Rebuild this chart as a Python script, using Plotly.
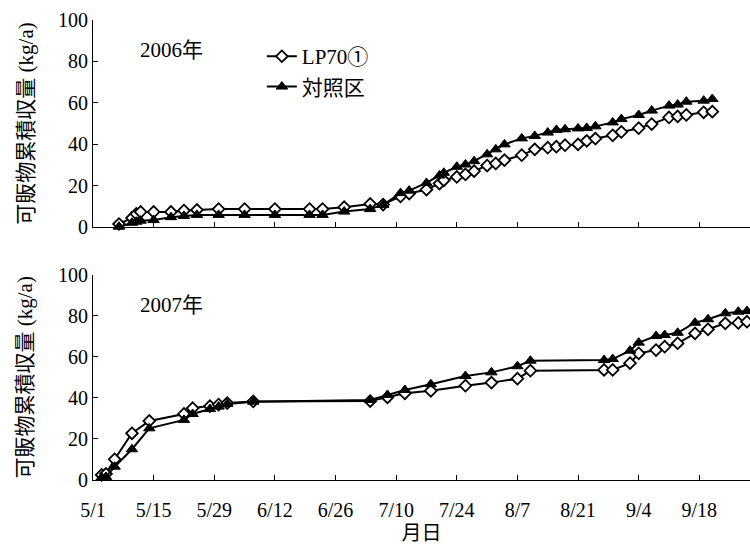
import pandas as pd
import plotly.graph_objects as go

# Harvest dates (month/day) and cumulative marketable yield (kg/a)
dates_2006 = ["5/7", "5/10", "5/11", "5/12", "5/15", "5/19", "5/22", "5/25", "5/30", "6/5",
              "6/12", "6/20", "6/23", "6/28", "7/4", "7/7", "7/11", "7/13", "7/17", "7/20",
              "7/21", "7/24", "7/26", "7/28", "7/31", "8/2", "8/4", "8/8", "8/11", "8/14",
              "8/16", "8/18", "8/21", "8/23", "8/25", "8/29", "8/31", "9/4", "9/7", "9/11",
              "9/13", "9/15", "9/19", "9/21"]
lp70_2006 = [1.6, 4.5, 6.5, 7.4, 7.4, 7.4, 8.1, 8.4, 8.8, 8.8,
             8.8, 8.8, 8.8, 9.7, 11.3, 11.0, 14.9, 16.3, 18.2, 21.1,
             22.7, 24.3, 25.5, 27.1, 29.8, 30.8, 32.4, 34.8, 37.6, 38.4,
             38.9, 39.6, 40.0, 41.7, 42.8, 44.4, 46.0, 47.8, 49.8, 53.0,
             53.5, 54.2, 55.5, 55.8]
ctrl_2006 = [0.3, 2.2, 2.7, 3.2, 3.5, 4.9, 5.5, 6.0, 6.0, 6.0,
             6.0, 6.0, 6.0, 7.6, 8.8, 10.8, 16.5, 17.7, 21.4, 25.0,
             26.3, 29.2, 30.3, 31.9, 35.2, 37.6, 40.0, 42.9, 44.1, 45.7,
             47.0, 47.3, 47.7, 47.9, 48.7, 50.6, 52.2, 54.2, 56.3, 58.7,
             59.2, 60.6, 61.1, 61.9]

dates_2007 = ["5/3", "5/4", "5/6", "5/10", "5/14", "5/22", "5/24", "5/28", "5/30", "6/1",
              "6/7", "7/4", "7/8", "7/12", "7/18", "7/26", "8/1", "8/7", "8/10", "8/27",
              "8/29", "9/2", "9/4", "9/8", "9/10", "9/13", "9/17", "9/20", "9/24", "9/27",
              "9/29"]
lp70_2007 = [2.5, 3.0, 10.1, 22.8, 28.8, 32.2, 35.0, 36.0, 36.8, 37.5,
             38.3, 38.5, 40.3, 42.3, 43.5, 46.0, 47.5, 49.4, 53.3, 53.7,
             53.7, 57.0, 61.8, 63.4, 65.0, 66.7, 71.5, 73.5, 76.4, 76.6,
             77.2]
ctrl_2007 = [1.2, 1.5, 6.5, 15.0, 25.2, 29.3, 32.2, 34.6, 35.8, 37.1,
             38.2, 39.0, 41.5, 43.9, 46.7, 50.7, 52.5, 55.5, 58.2, 58.5,
             59.0, 63.1, 67.0, 70.2, 70.7, 71.8, 76.7, 78.4, 81.3, 82.1,
             82.4]

tick_labels = ["5/1", "5/15", "5/29", "6/12", "6/26", "7/10", "7/24", "8/7", "8/21", "9/4", "9/18"]
y_ticks = [0, 20, 40, 60, 80, 100]

series_names = ["LP70①", "対照区"]
y_title = "可販物累積収量 (kg/a)"
x_title = "月日"


def season_day(md_list):
    """Days elapsed since 1 May for a list of 'M/D' strings."""
    d = pd.to_datetime(["2001/" + s for s in md_list], format="%Y/%m/%d")
    return list((d - pd.Timestamp("2001-05-01")).days)


x06 = season_day(dates_2006)
x07 = season_day(dates_2007)
tick_vals = season_day(tick_labels)

SERIF = "Liberation Serif, Times New Roman, Noto Sans CJK JP, serif"
BLACK = "#000000"

fig = go.Figure()


def add_pair(x, lp, ct, xa, ya, legend):
    fig.add_trace(go.Scatter(
        x=x, y=lp, name=series_names[0], mode="lines+markers",
        xaxis=xa, yaxis=ya, showlegend=legend, cliponaxis=False,
        line=dict(color=BLACK, width=2),
        marker=dict(symbol="diamond", size=9, color="white",
                    line=dict(color=BLACK, width=1.8)),
    ))
    fig.add_trace(go.Scatter(
        x=x, y=ct, name=series_names[1], mode="lines+markers",
        xaxis=xa, yaxis=ya, showlegend=legend, cliponaxis=False,
        line=dict(color=BLACK, width=2),
        marker=dict(symbol="triangle-up", size=10, color=BLACK,
                    line=dict(color=BLACK, width=1)),
    ))


add_pair(x06, lp70_2006, ctrl_2006, "x", "y", True)
add_pair(x07, lp70_2007, ctrl_2007, "x2", "y2", False)

x_common = dict(
    range=[0, 151.7], tickmode="array", tickvals=tick_vals, ticktext=tick_labels,
    ticks="inside", ticklen=5, tickcolor=BLACK, tickwidth=1,
    showline=True, linecolor=BLACK, linewidth=1, showgrid=False, zeroline=False,
    tickfont=dict(family=SERIF, size=20, color=BLACK),
)
y_common = dict(
    range=[0, 100], tickmode="array", tickvals=y_ticks,
    ticks="inside", ticklen=5, tickcolor=BLACK, tickwidth=1,
    showline=True, linecolor=BLACK, linewidth=1, showgrid=False, zeroline=False,
    tickfont=dict(family=SERIF, size=20, color=BLACK),
)

fig.update_layout(
    width=750, height=544,
    margin=dict(l=93, r=0, t=20, b=64),
    paper_bgcolor="white", plot_bgcolor="white",
    xaxis=dict(x_common, anchor="y", showticklabels=False),
    yaxis=dict(y_common, domain=[0.5493, 1.0], anchor="x"),
    xaxis2=dict(x_common, anchor="y2", ticklabelstandoff=12,
                title=dict(text=x_title, standoff=8,
                           font=dict(family=SERIF, size=20, color=BLACK))),
    yaxis2=dict(y_common, domain=[0.0, 0.4457], anchor="x2"),
    legend=dict(x=0.257, y=0.965, xanchor="left", yanchor="top",
                bgcolor="rgba(0,0,0,0)",
                font=dict(family=SERIF, size=21, color=BLACK)),
    showlegend=True,
)

# Panel labels and y-axis titles
for yref, year in (("y", "2006年"), ("y2", "2007年")):
    fig.add_annotation(
        text=year, xref="x" if yref == "y" else "x2", yref=yref,
        x=10.4, y=85.5, xanchor="left", yanchor="middle", showarrow=False,
        font=dict(family=SERIF, size=21, color=BLACK),
    )
    fig.add_annotation(
        text=y_title, xref="paper", yref=yref + " domain",
        x=-0.102, y=0.5, xanchor="center", yanchor="middle", textangle=-90,
        showarrow=False, font=dict(family=SERIF, size=21, color=BLACK),
    )

fig.write_html("out.html")
